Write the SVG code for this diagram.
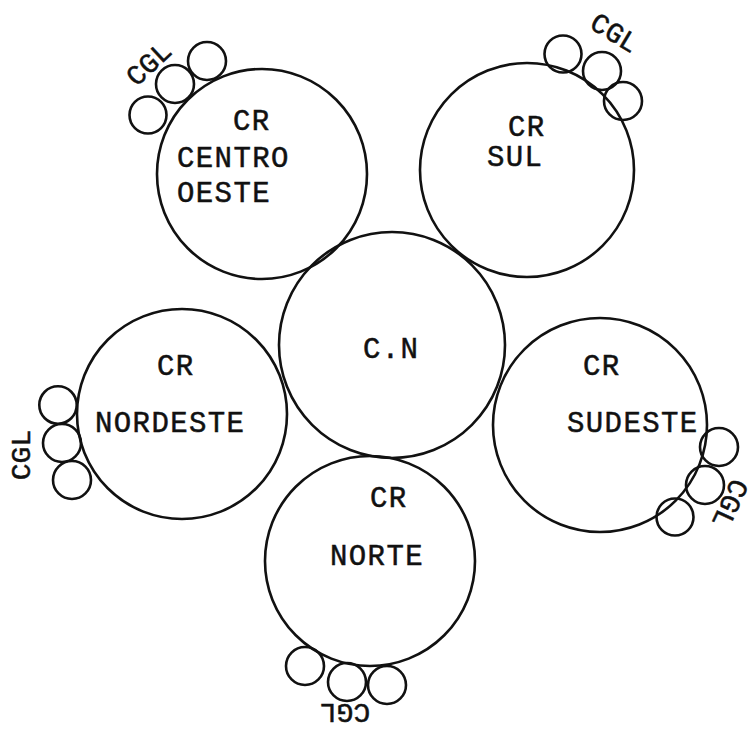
<svg xmlns="http://www.w3.org/2000/svg" width="753" height="732" viewBox="0 0 753 732">
<style>
.c{fill:none;stroke:#111;stroke-width:2.6}
.s{fill:none;stroke:#111;stroke-width:2.6}
.t{font-family:"Liberation Mono","Courier New",monospace;font-size:29px;letter-spacing:1.4px;fill:#111;stroke:#111;stroke-width:0.5}
.g{font-family:"Liberation Mono","Courier New",monospace;font-size:28px;fill:#111;stroke:#111;stroke-width:0.5;text-anchor:middle}
</style>
<rect width="753" height="732" fill="#fff"/>
<g id="cn">
<circle class="c" cx="392" cy="345" r="113"/>
<text class="t" x="363" y="358">C.N</text>
</g>
<g id="cr-centro-oeste">
<circle class="c" cx="262" cy="174" r="105"/>
<text class="t" x="233" y="130">CR</text>
<text class="t" x="177" y="167">CENTRO</text>
<text class="t" x="177" y="202">OESTE</text>
</g>
<g id="cr-sul">
<circle class="c" cx="527" cy="170" r="107"/>
<text class="t" x="508" y="136">CR</text>
<text class="t" x="487" y="166">SUL</text>
</g>
<g id="cr-nordeste">
<circle class="c" cx="182" cy="414" r="105"/>
<text class="t" x="157" y="375">CR</text>
<text class="t" x="95" y="432">NORDESTE</text>
</g>
<g id="cr-sudeste">
<circle class="c" cx="600" cy="425" r="107"/>
<text class="t" x="583" y="375">CR</text>
<text class="t" x="567" y="432">SUDESTE</text>
</g>
<g id="cr-norte">
<circle class="c" cx="370" cy="561" r="105"/>
<text class="t" x="370" y="507">CR</text>
<text class="t" x="330" y="565">NORTE</text>
</g>
<g id="cgl-centro-oeste">
<circle class="s" cx="148" cy="115" r="18.5"/>
<circle class="s" cx="175" cy="84" r="19"/>
<circle class="s" cx="207" cy="61" r="19"/>
<text class="g" transform="translate(148,63) rotate(-43)" y="10">CGL</text>
</g>
<g id="cgl-sul">
<circle class="s" cx="563" cy="54" r="18.5"/>
<circle class="s" cx="602" cy="71" r="19"/>
<circle class="s" cx="623" cy="101" r="19"/>
<text class="g" transform="translate(615,32) rotate(31)" y="10">CGL</text>
</g>
<g id="cgl-nordeste">
<circle class="s" cx="58" cy="405" r="18.7"/>
<circle class="s" cx="62" cy="443" r="19"/>
<circle class="s" cx="72" cy="480" r="19"/>
<text class="g" transform="translate(20,455) rotate(-90)" y="10">CGL</text>
</g>
<g id="cgl-sudeste">
<circle class="s" cx="719" cy="447" r="19"/>
<circle class="s" cx="705" cy="485" r="19"/>
<circle class="s" cx="675" cy="517" r="18.5"/>
<text class="g" transform="translate(731,504) rotate(115)" y="10">CGL</text>
</g>
<g id="cgl-norte">
<circle class="s" cx="305" cy="666" r="19"/>
<circle class="s" cx="347" cy="682" r="19"/>
<circle class="s" cx="387" cy="685" r="19"/>
<text class="g" transform="translate(345,714) rotate(180)" y="10">CGL</text>
</g>
</svg>
